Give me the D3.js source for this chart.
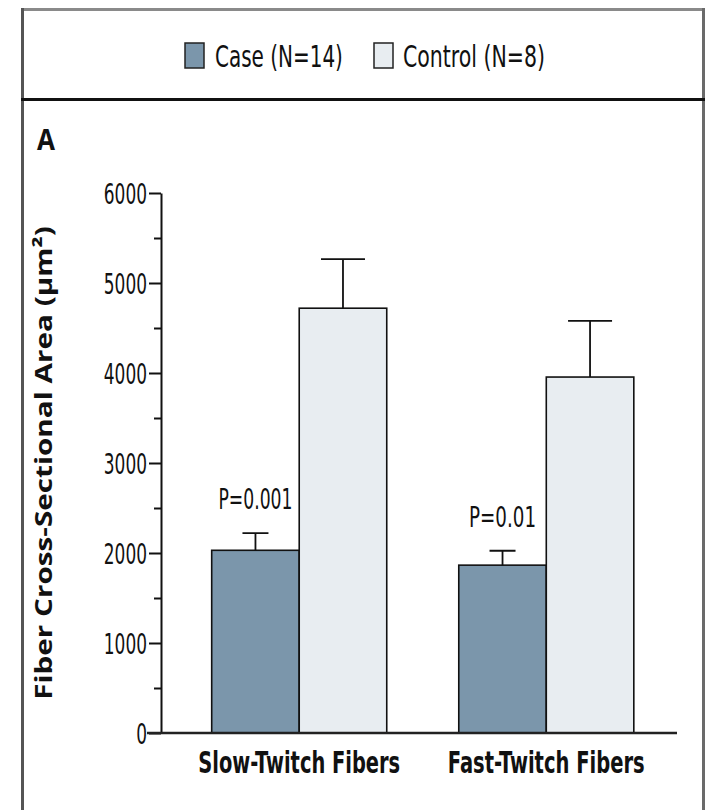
<!DOCTYPE html>
<html>
<head>
<meta charset="utf-8">
<script src="https://cdn.jsdelivr.net/npm/d3@7"></script>
<style>
  html, body { margin: 0; padding: 0; background: #fff; }
  svg { display: block; }
  .narrow { font-family: "Liberation Sans Narrow", "DejaVu Sans Condensed", "Liberation Sans", sans-serif; }
</style>
</head>
<body>
<svg id="chart" width="709" height="810"></svg>
<script>
// ---- data ----
const categories = ["Slow-Twitch Fibers", "Fast-Twitch Fibers"];
const seriesNames = ["Case (N=14)", "Control (N=8)"];
const caseMeans = [2030, 1865];
const caseErrors = [190, 160];
const controlMeans = [4720, 3955];
const controlErrors = [545, 625];
const pLabels = ["P=0.001", "P=0.01"];
const yTicks = [0, 1000, 2000, 3000, 4000, 5000, 6000];
const yMinorTicks = [500, 1500, 2500, 3500, 4500, 5500];
const yTitle = "Fiber Cross-Sectional Area (\u00B5m\u00B2)";
const panelLabel = "A";

const colors = ["#7b96ab", "#e8edf1"];

const rows = categories.map((c, i) => ({
  category: c,
  values: [
    { series: seriesNames[0], mean: caseMeans[i], err: caseErrors[i], s: 0 },
    { series: seriesNames[1], mean: controlMeans[i], err: controlErrors[i], s: 1 }
  ],
  p: pLabels[i]
}));

const svg = d3.select("#chart");

// ---- frame ----
svg.append("line").attr("x1", 21).attr("x2", 705).attr("y1", 9.5).attr("y2", 9.5)
  .attr("stroke", "#8a8a8a").attr("stroke-width", 3);
svg.append("line").attr("x1", 22.5).attr("x2", 22.5).attr("y1", 8).attr("y2", 810)
  .attr("stroke", "#555").attr("stroke-width", 3);
svg.append("line").attr("x1", 703.5).attr("x2", 703.5).attr("y1", 8).attr("y2", 810)
  .attr("stroke", "#6a6a6a").attr("stroke-width", 3);
svg.append("line").attr("x1", 21).attr("x2", 705).attr("y1", 99.5).attr("y2", 99.5)
  .attr("stroke", "#111").attr("stroke-width", 3);

// place a text at (x,y) and squeeze it horizontally to a target width
function placeScaled(parent, str, x, y, w, opts) {
  const t = parent.append("text").text(str)
    .attr("font-size", opts.size).attr("fill", "#111")
    .attr("text-anchor", opts.anchor || "start");
  if (opts.cls) t.attr("class", opts.cls);
  if (opts.weight) t.attr("font-weight", opts.weight);
  if (opts.family) t.attr("font-family", opts.family);
  const nat = t.node().getComputedTextLength();
  const sx = nat > 0 ? w / nat : 1;
  t.attr("transform", `translate(${x},${y}) scale(${sx},1)`);
  return t;
}

// ---- legend ----
const legendItems = [
  { name: seriesNames[0], color: colors[0], sx: 185, tx: 215, tw: 128 },
  { name: seriesNames[1], color: colors[1], sx: 374, tx: 403, tw: 142 }
];
legendItems.forEach(d => {
  svg.append("rect").attr("x", d.sx).attr("y", 43).attr("width", 19).attr("height", 25)
    .attr("fill", d.color).attr("stroke", "#222").attr("stroke-width", 1.5);
  placeScaled(svg, d.name, d.tx, 67, d.tw, { size: 30, cls: "narrow" });
});

// ---- panel label ----
placeScaled(svg, panelLabel, 37, 150, 18,
  { size: 29, weight: 700, family: "Open Sans, Liberation Sans, sans-serif" });

// ---- scales ----
const axisX = 161;
const y = d3.scaleLinear().domain([0, 6000]).range([733, 193]);
const x = d3.scaleBand().domain(categories).range([axisX, 677])
  .paddingInner(0.2915).paddingOuter(0.19).align(0.54);
const xs = d3.scaleBand().domain([0, 1]).range([0, x.bandwidth()]);

// ---- y axis ----
const yAxis = d3.axisLeft(y).tickValues(yTicks).tickSize(12).tickSizeOuter(0).tickPadding(2)
  .tickFormat(d3.format("d"));
const gy = svg.append("g").attr("transform", `translate(${axisX},0)`).call(yAxis);
gy.select(".domain").attr("stroke", "#111").attr("stroke-width", 2);
gy.selectAll(".tick line").attr("stroke", "#111").attr("stroke-width", 2);
gy.selectAll(".tick text").attr("class", "narrow").attr("font-size", 29).attr("fill", "#111")
  .attr("dy", "0.36em")
  .each(function(d) {
    const n = String(d).length;
    d3.select(this).attr("textLength", n * 10.8).attr("lengthAdjust", "spacingAndGlyphs");
  });
const yMinor = d3.axisLeft(y).tickValues(yMinorTicks).tickSize(7).tickFormat("");
const gm = svg.append("g").attr("transform", `translate(${axisX},0)`).call(yMinor);
gm.select(".domain").remove();
gm.selectAll(".tick line").attr("stroke", "#111").attr("stroke-width", 2);

// y title
const yt = svg.append("text")
  .attr("text-anchor", "middle")
  .attr("font-family", "Open Sans, Liberation Sans, sans-serif").attr("font-weight", 700)
  .attr("font-size", 23).attr("fill", "#111").text(yTitle);
const ytW = yt.node().getComputedTextLength();
yt.attr("transform", `translate(52, ${(700 + 226) / 2}) rotate(-90) scale(${474 / ytW},1)`);

// ---- bars ----
const groups = svg.append("g").selectAll("g").data(rows).join("g")
  .attr("transform", d => `translate(${x(d.category)},0)`);

groups.selectAll("rect").data(d => d.values).join("rect")
  .attr("x", d => xs(d.s))
  .attr("y", d => y(d.mean))
  .attr("width", xs.bandwidth())
  .attr("height", d => y(0) - y(d.mean))
  .attr("fill", d => colors[d.s])
  .attr("stroke", "#111").attr("stroke-width", 1.6);

// error bars
const capW = [26, 44];
groups.selectAll("path.err").data(d => d.values).join("path")
  .attr("class", "err")
  .attr("d", d => {
    const cx = xs(d.s) + xs.bandwidth() / 2;
    const top = y(d.mean + d.err);
    const half = capW[d.s] / 2;
    return `M${cx},${y(d.mean)}V${top}M${cx - half},${top}H${cx + half}`;
  })
  .attr("fill", "none").attr("stroke", "#111").attr("stroke-width", 1.8);

// p labels
const pW = [74, 67];
groups.each(function(d, i) {
  const g = d3.select(this);
  placeScaled(g, d.p, xs(0) + xs.bandwidth() / 2, y(d.values[0].mean + d.values[0].err) - 24,
    pW[i], { size: 28, cls: "narrow", anchor: "middle" });
});

// baseline
svg.append("line").attr("x1", axisX - 14).attr("x2", 677)
  .attr("y1", y(0)).attr("y2", y(0)).attr("stroke", "#222").attr("stroke-width", 2.5);

// category labels
const catW = [202, 197];
groups.each(function(d, i) {
  placeScaled(d3.select(this), d.category, x.bandwidth() / 2, 773, catW[i],
    { size: 31, cls: "narrow", weight: 700, anchor: "middle" });
});
</script>
</body>
</html>
